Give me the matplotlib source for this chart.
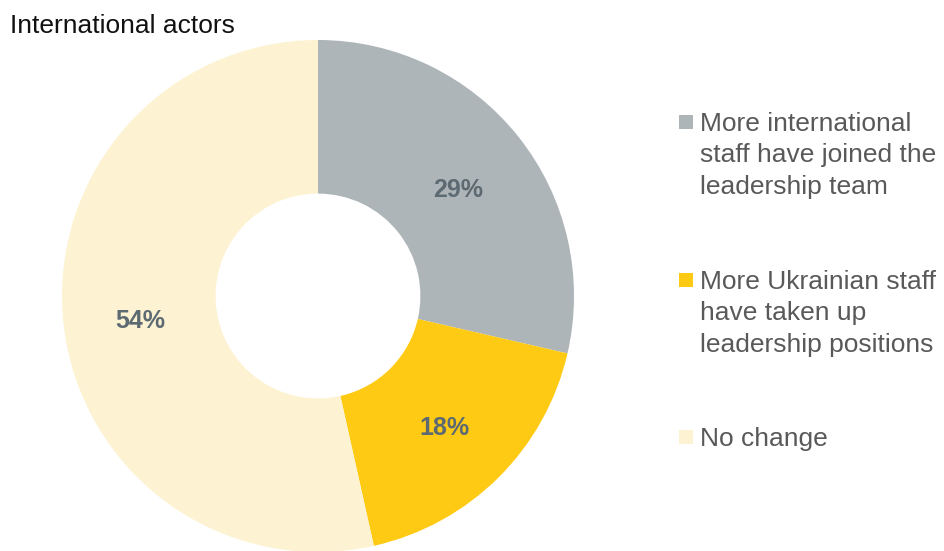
import matplotlib
matplotlib.use('Agg')
import matplotlib.pyplot as plt
from matplotlib.patches import Rectangle
import numpy as np

plt.rcParams['font.family'] = ['Liberation Sans', 'DejaVu Sans']

# data
categories = ['More international\nstaff have joined the\nleadership team',
              'More Ukrainian staff\nhave taken up\nleadership positions',
              'No change']
shares = [28.6, 17.9, 53.5]
pct_labels = ['29%', '18%', '54%']
colors = ['#adb5b9', '#ffca14', '#fdf3d2']

W, H = 944, 551
fig = plt.figure(figsize=(W / 100, H / 100), dpi=100)

# donut: centre (318, 296) px, outer radius 256 px
cx, cy, r = 318, 296, 256
ax = fig.add_axes([(cx - r) / W, (H - cy - r) / H, 2 * r / W, 2 * r / H])
wedges, texts = ax.pie(shares, colors=colors, startangle=90, counterclock=False,
                       radius=1, wedgeprops=dict(width=0.6, linewidth=0))
ax.set_xlim(-1, 1)
ax.set_ylim(-1, 1)
ax.axis('off')

# percentage labels inside the ring
total = sum(shares)
start = 90.0
for val, lab in zip(shares, pct_labels):
    mid = start - val / total * 360 / 2
    start -= val / total * 360
    x = 0.70 * np.cos(np.radians(mid))
    y = 0.70 * np.sin(np.radians(mid)) - 0.02
    ax.text(x, y, lab, ha='center', va='center', fontsize=18,
            fontweight='bold', color='#5d6a72')

# title
fig.text(10 / W, 1 - 33 / H, 'International actors', fontsize=19,
         color='#111111', va='baseline', ha='left')

# legend drawn by hand: square next to first line of each label
first_line_y = [122, 280, 437]
for lab, col, yy in zip(categories, colors, first_line_y):
    fig.patches.append(Rectangle((679 / W, 1 - (yy + 7) / H), 14 / W, 14 / H,
                                 transform=fig.transFigure, facecolor=col,
                                 edgecolor='none'))
    fig.text(700 / W, 1 - (yy - 10) / H, lab, fontsize=19, color='#595959',
             va='top', ha='left', linespacing=1.39)

fig.savefig('out.png', dpi=100)
